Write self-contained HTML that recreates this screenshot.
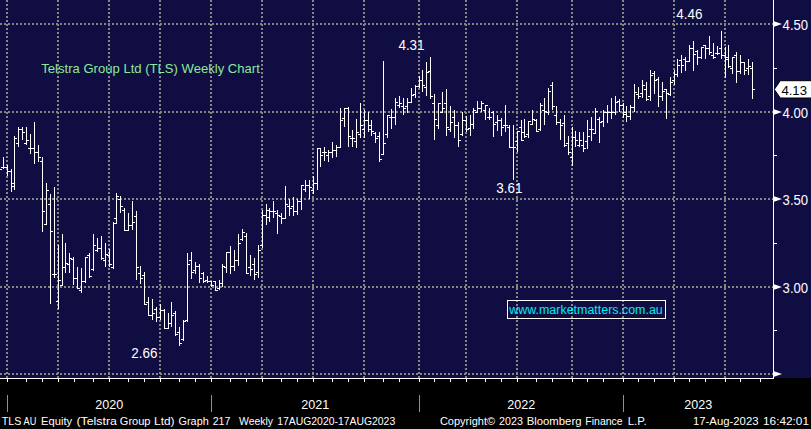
<!DOCTYPE html>
<html><head><meta charset="utf-8"><title>Telstra Group Ltd (TLS) Weekly Chart</title>
<style>
html,body{margin:0;padding:0;background:#000;}
body{width:811px;height:429px;overflow:hidden;position:relative;font-family:"Liberation Sans",sans-serif;}
svg{position:absolute;left:0;top:0;display:block;}
text{font-family:"Liberation Sans",sans-serif;}
</style></head><body>
<svg width="811" height="429" viewBox="0 0 811 429">
<rect x="0" y="0" width="811" height="429" fill="#000"/>
<rect x="0" y="0" width="811" height="378" fill="#100d43"/>
<g stroke="#878782" stroke-width="2" stroke-dasharray="2 2" shape-rendering="crispEdges" fill="none">
<line x1="0" y1="24" x2="773" y2="24"/>
<line x1="0" y1="112" x2="773" y2="112"/>
<line x1="0" y1="199" x2="773" y2="199"/>
<line x1="0" y1="287" x2="773" y2="287"/>
<line x1="0" y1="374" x2="773" y2="374"/>
<line x1="7" y1="0" x2="7" y2="378"/>
<line x1="58" y1="0" x2="58" y2="378"/>
<line x1="109" y1="0" x2="109" y2="378"/>
<line x1="160" y1="0" x2="160" y2="378"/>
<line x1="211" y1="0" x2="211" y2="378"/>
<line x1="262" y1="0" x2="262" y2="378"/>
<line x1="313" y1="0" x2="313" y2="378"/>
<line x1="364" y1="0" x2="364" y2="378"/>
<line x1="419" y1="0" x2="419" y2="378"/>
<line x1="466" y1="0" x2="466" y2="378"/>
<line x1="517" y1="0" x2="517" y2="378"/>
<line x1="572" y1="0" x2="572" y2="378"/>
<line x1="623" y1="0" x2="623" y2="378"/>
<line x1="674" y1="0" x2="674" y2="378"/>
<line x1="725" y1="0" x2="725" y2="378"/>
</g>
<g fill="#fff" shape-rendering="crispEdges">
<rect x="3" y="157" width="1" height="12"/>
<rect x="1" y="167" width="2" height="1"/>
<rect x="4" y="167" width="2" height="1"/>
<rect x="7" y="165" width="1" height="11"/>
<rect x="5" y="167" width="2" height="1"/>
<rect x="8" y="171" width="2" height="1"/>
<rect x="11" y="169" width="1" height="23"/>
<rect x="9" y="171" width="2" height="1"/>
<rect x="12" y="183" width="2" height="1"/>
<rect x="14" y="136" width="1" height="54"/>
<rect x="12" y="186" width="2" height="1"/>
<rect x="15" y="138" width="2" height="1"/>
<rect x="18" y="127" width="1" height="20"/>
<rect x="16" y="143" width="2" height="1"/>
<rect x="19" y="129" width="2" height="1"/>
<rect x="22" y="127" width="1" height="13"/>
<rect x="20" y="129" width="2" height="1"/>
<rect x="23" y="132" width="2" height="1"/>
<rect x="26" y="127" width="1" height="18"/>
<rect x="24" y="143" width="2" height="1"/>
<rect x="27" y="140" width="2" height="1"/>
<rect x="30" y="134" width="1" height="20"/>
<rect x="28" y="148" width="2" height="1"/>
<rect x="31" y="148" width="2" height="1"/>
<rect x="34" y="122" width="1" height="42"/>
<rect x="32" y="148" width="2" height="1"/>
<rect x="35" y="152" width="2" height="1"/>
<rect x="38" y="145" width="1" height="17"/>
<rect x="36" y="152" width="2" height="1"/>
<rect x="39" y="157" width="2" height="1"/>
<rect x="42" y="157" width="1" height="75"/>
<rect x="40" y="161" width="2" height="1"/>
<rect x="43" y="211" width="2" height="1"/>
<rect x="46" y="183" width="1" height="42"/>
<rect x="44" y="224" width="2" height="1"/>
<rect x="47" y="190" width="2" height="1"/>
<rect x="50" y="194" width="1" height="110"/>
<rect x="48" y="204" width="2" height="1"/>
<rect x="51" y="231" width="2" height="1"/>
<rect x="54" y="187" width="1" height="91"/>
<rect x="52" y="274" width="2" height="1"/>
<rect x="55" y="274" width="2" height="1"/>
<rect x="58" y="245" width="1" height="64"/>
<rect x="56" y="301" width="2" height="1"/>
<rect x="59" y="280" width="2" height="1"/>
<rect x="62" y="234" width="1" height="52"/>
<rect x="60" y="285" width="2" height="1"/>
<rect x="63" y="267" width="2" height="1"/>
<rect x="65" y="243" width="1" height="30"/>
<rect x="63" y="267" width="2" height="1"/>
<rect x="66" y="263" width="2" height="1"/>
<rect x="69" y="253" width="1" height="20"/>
<rect x="67" y="264" width="2" height="1"/>
<rect x="70" y="258" width="2" height="1"/>
<rect x="73" y="257" width="1" height="28"/>
<rect x="71" y="259" width="2" height="1"/>
<rect x="74" y="278" width="2" height="1"/>
<rect x="77" y="267" width="1" height="22"/>
<rect x="75" y="278" width="2" height="1"/>
<rect x="78" y="288" width="2" height="1"/>
<rect x="81" y="268" width="1" height="25"/>
<rect x="79" y="290" width="2" height="1"/>
<rect x="82" y="281" width="2" height="1"/>
<rect x="85" y="257" width="1" height="26"/>
<rect x="83" y="281" width="2" height="1"/>
<rect x="86" y="257" width="2" height="1"/>
<rect x="89" y="253" width="1" height="25"/>
<rect x="87" y="255" width="2" height="1"/>
<rect x="90" y="276" width="2" height="1"/>
<rect x="93" y="234" width="1" height="37"/>
<rect x="91" y="269" width="2" height="1"/>
<rect x="94" y="245" width="2" height="1"/>
<rect x="97" y="238" width="1" height="14"/>
<rect x="95" y="250" width="2" height="1"/>
<rect x="98" y="248" width="2" height="1"/>
<rect x="101" y="236" width="1" height="24"/>
<rect x="99" y="248" width="2" height="1"/>
<rect x="102" y="258" width="2" height="1"/>
<rect x="105" y="243" width="1" height="24"/>
<rect x="103" y="260" width="2" height="1"/>
<rect x="106" y="254" width="2" height="1"/>
<rect x="109" y="249" width="1" height="18"/>
<rect x="107" y="255" width="2" height="1"/>
<rect x="110" y="264" width="2" height="1"/>
<rect x="113" y="222" width="1" height="47"/>
<rect x="111" y="267" width="2" height="1"/>
<rect x="114" y="223" width="2" height="1"/>
<rect x="116" y="193" width="1" height="31"/>
<rect x="114" y="218" width="2" height="1"/>
<rect x="117" y="196" width="2" height="1"/>
<rect x="120" y="196" width="1" height="17"/>
<rect x="118" y="199" width="2" height="1"/>
<rect x="121" y="206" width="2" height="1"/>
<rect x="124" y="208" width="1" height="23"/>
<rect x="122" y="210" width="2" height="1"/>
<rect x="125" y="230" width="2" height="1"/>
<rect x="128" y="213" width="1" height="18"/>
<rect x="126" y="230" width="2" height="1"/>
<rect x="129" y="225" width="2" height="1"/>
<rect x="132" y="201" width="1" height="29"/>
<rect x="130" y="225" width="2" height="1"/>
<rect x="133" y="222" width="2" height="1"/>
<rect x="136" y="211" width="1" height="69"/>
<rect x="134" y="216" width="2" height="1"/>
<rect x="137" y="267" width="2" height="1"/>
<rect x="140" y="266" width="1" height="18"/>
<rect x="138" y="273" width="2" height="1"/>
<rect x="141" y="278" width="2" height="1"/>
<rect x="144" y="272" width="1" height="33"/>
<rect x="142" y="275" width="2" height="1"/>
<rect x="145" y="304" width="2" height="1"/>
<rect x="148" y="297" width="1" height="19"/>
<rect x="146" y="302" width="2" height="1"/>
<rect x="149" y="315" width="2" height="1"/>
<rect x="152" y="299" width="1" height="21"/>
<rect x="150" y="315" width="2" height="1"/>
<rect x="153" y="313" width="2" height="1"/>
<rect x="156" y="307" width="1" height="15"/>
<rect x="154" y="309" width="2" height="1"/>
<rect x="157" y="317" width="2" height="1"/>
<rect x="160" y="304" width="1" height="16"/>
<rect x="158" y="317" width="2" height="1"/>
<rect x="161" y="310" width="2" height="1"/>
<rect x="164" y="309" width="1" height="20"/>
<rect x="162" y="310" width="2" height="1"/>
<rect x="165" y="328" width="2" height="1"/>
<rect x="168" y="313" width="1" height="16"/>
<rect x="166" y="328" width="2" height="1"/>
<rect x="169" y="323" width="2" height="1"/>
<rect x="171" y="302" width="1" height="25"/>
<rect x="169" y="323" width="2" height="1"/>
<rect x="172" y="315" width="2" height="1"/>
<rect x="175" y="311" width="1" height="25"/>
<rect x="173" y="313" width="2" height="1"/>
<rect x="176" y="334" width="2" height="1"/>
<rect x="179" y="327" width="1" height="19"/>
<rect x="177" y="332" width="2" height="1"/>
<rect x="180" y="343" width="2" height="1"/>
<rect x="183" y="320" width="1" height="21"/>
<rect x="181" y="339" width="2" height="1"/>
<rect x="184" y="321" width="2" height="1"/>
<rect x="187" y="253" width="1" height="69"/>
<rect x="185" y="320" width="2" height="1"/>
<rect x="188" y="264" width="2" height="1"/>
<rect x="191" y="252" width="1" height="27"/>
<rect x="189" y="260" width="2" height="1"/>
<rect x="192" y="272" width="2" height="1"/>
<rect x="195" y="262" width="1" height="12"/>
<rect x="193" y="270" width="2" height="1"/>
<rect x="196" y="266" width="2" height="1"/>
<rect x="199" y="264" width="1" height="19"/>
<rect x="197" y="266" width="2" height="1"/>
<rect x="200" y="278" width="2" height="1"/>
<rect x="203" y="272" width="1" height="11"/>
<rect x="201" y="273" width="2" height="1"/>
<rect x="204" y="281" width="2" height="1"/>
<rect x="207" y="276" width="1" height="7"/>
<rect x="205" y="280" width="2" height="1"/>
<rect x="208" y="281" width="2" height="1"/>
<rect x="211" y="281" width="1" height="6"/>
<rect x="209" y="281" width="2" height="1"/>
<rect x="212" y="285" width="2" height="1"/>
<rect x="215" y="281" width="1" height="10"/>
<rect x="213" y="281" width="2" height="1"/>
<rect x="216" y="290" width="2" height="1"/>
<rect x="219" y="280" width="1" height="10"/>
<rect x="217" y="288" width="2" height="1"/>
<rect x="220" y="283" width="2" height="1"/>
<rect x="222" y="264" width="1" height="23"/>
<rect x="220" y="283" width="2" height="1"/>
<rect x="223" y="266" width="2" height="1"/>
<rect x="226" y="252" width="1" height="21"/>
<rect x="224" y="267" width="2" height="1"/>
<rect x="227" y="252" width="2" height="1"/>
<rect x="230" y="246" width="1" height="28"/>
<rect x="228" y="252" width="2" height="1"/>
<rect x="231" y="266" width="2" height="1"/>
<rect x="234" y="250" width="1" height="21"/>
<rect x="232" y="266" width="2" height="1"/>
<rect x="235" y="260" width="2" height="1"/>
<rect x="238" y="234" width="1" height="32"/>
<rect x="236" y="260" width="2" height="1"/>
<rect x="239" y="243" width="2" height="1"/>
<rect x="242" y="229" width="1" height="12"/>
<rect x="240" y="239" width="2" height="1"/>
<rect x="243" y="232" width="2" height="1"/>
<rect x="246" y="233" width="1" height="41"/>
<rect x="244" y="236" width="2" height="1"/>
<rect x="247" y="273" width="2" height="1"/>
<rect x="250" y="255" width="1" height="21"/>
<rect x="248" y="267" width="2" height="1"/>
<rect x="251" y="269" width="2" height="1"/>
<rect x="254" y="258" width="1" height="22"/>
<rect x="252" y="264" width="2" height="1"/>
<rect x="255" y="274" width="2" height="1"/>
<rect x="258" y="245" width="1" height="33"/>
<rect x="256" y="272" width="2" height="1"/>
<rect x="259" y="250" width="2" height="1"/>
<rect x="262" y="210" width="1" height="38"/>
<rect x="260" y="245" width="2" height="1"/>
<rect x="263" y="215" width="2" height="1"/>
<rect x="266" y="204" width="1" height="21"/>
<rect x="264" y="215" width="2" height="1"/>
<rect x="267" y="210" width="2" height="1"/>
<rect x="269" y="208" width="1" height="14"/>
<rect x="267" y="217" width="2" height="1"/>
<rect x="270" y="211" width="2" height="1"/>
<rect x="273" y="201" width="1" height="17"/>
<rect x="271" y="211" width="2" height="1"/>
<rect x="274" y="211" width="2" height="1"/>
<rect x="277" y="210" width="1" height="24"/>
<rect x="275" y="213" width="2" height="1"/>
<rect x="278" y="215" width="2" height="1"/>
<rect x="281" y="213" width="1" height="11"/>
<rect x="279" y="216" width="2" height="1"/>
<rect x="282" y="218" width="2" height="1"/>
<rect x="285" y="186" width="1" height="33"/>
<rect x="283" y="218" width="2" height="1"/>
<rect x="286" y="204" width="2" height="1"/>
<rect x="289" y="199" width="1" height="17"/>
<rect x="287" y="206" width="2" height="1"/>
<rect x="290" y="208" width="2" height="1"/>
<rect x="293" y="197" width="1" height="19"/>
<rect x="291" y="206" width="2" height="1"/>
<rect x="294" y="211" width="2" height="1"/>
<rect x="297" y="199" width="1" height="16"/>
<rect x="295" y="211" width="2" height="1"/>
<rect x="298" y="201" width="2" height="1"/>
<rect x="301" y="185" width="1" height="25"/>
<rect x="299" y="201" width="2" height="1"/>
<rect x="302" y="185" width="2" height="1"/>
<rect x="305" y="180" width="1" height="12"/>
<rect x="303" y="189" width="2" height="1"/>
<rect x="306" y="185" width="2" height="1"/>
<rect x="309" y="180" width="1" height="19"/>
<rect x="307" y="185" width="2" height="1"/>
<rect x="310" y="187" width="2" height="1"/>
<rect x="313" y="176" width="1" height="18"/>
<rect x="311" y="190" width="2" height="1"/>
<rect x="314" y="183" width="2" height="1"/>
<rect x="317" y="148" width="1" height="42"/>
<rect x="315" y="183" width="2" height="1"/>
<rect x="318" y="148" width="2" height="1"/>
<rect x="320" y="148" width="1" height="19"/>
<rect x="318" y="148" width="2" height="1"/>
<rect x="321" y="155" width="2" height="1"/>
<rect x="324" y="147" width="1" height="14"/>
<rect x="322" y="152" width="2" height="1"/>
<rect x="325" y="152" width="2" height="1"/>
<rect x="328" y="150" width="1" height="12"/>
<rect x="326" y="155" width="2" height="1"/>
<rect x="329" y="152" width="2" height="1"/>
<rect x="332" y="142" width="1" height="16"/>
<rect x="330" y="152" width="2" height="1"/>
<rect x="333" y="150" width="2" height="1"/>
<rect x="336" y="145" width="1" height="12"/>
<rect x="334" y="150" width="2" height="1"/>
<rect x="337" y="147" width="2" height="1"/>
<rect x="340" y="108" width="1" height="40"/>
<rect x="338" y="147" width="2" height="1"/>
<rect x="341" y="120" width="2" height="1"/>
<rect x="344" y="108" width="1" height="19"/>
<rect x="342" y="118" width="2" height="1"/>
<rect x="345" y="108" width="2" height="1"/>
<rect x="348" y="107" width="1" height="40"/>
<rect x="346" y="108" width="2" height="1"/>
<rect x="349" y="136" width="2" height="1"/>
<rect x="352" y="130" width="1" height="17"/>
<rect x="350" y="138" width="2" height="1"/>
<rect x="353" y="138" width="2" height="1"/>
<rect x="356" y="119" width="1" height="29"/>
<rect x="354" y="141" width="2" height="1"/>
<rect x="357" y="132" width="2" height="1"/>
<rect x="360" y="103" width="1" height="35"/>
<rect x="358" y="134" width="2" height="1"/>
<rect x="361" y="125" width="2" height="1"/>
<rect x="364" y="110" width="1" height="28"/>
<rect x="362" y="129" width="2" height="1"/>
<rect x="365" y="120" width="2" height="1"/>
<rect x="368" y="112" width="1" height="20"/>
<rect x="366" y="120" width="2" height="1"/>
<rect x="369" y="129" width="2" height="1"/>
<rect x="371" y="120" width="1" height="16"/>
<rect x="369" y="125" width="2" height="1"/>
<rect x="372" y="131" width="2" height="1"/>
<rect x="375" y="132" width="1" height="11"/>
<rect x="373" y="133" width="2" height="1"/>
<rect x="376" y="138" width="2" height="1"/>
<rect x="379" y="132" width="1" height="30"/>
<rect x="377" y="136" width="2" height="1"/>
<rect x="380" y="159" width="2" height="1"/>
<rect x="383" y="61" width="1" height="94"/>
<rect x="381" y="154" width="2" height="1"/>
<rect x="384" y="143" width="2" height="1"/>
<rect x="387" y="115" width="1" height="23"/>
<rect x="385" y="134" width="2" height="1"/>
<rect x="388" y="115" width="2" height="1"/>
<rect x="391" y="109" width="1" height="20"/>
<rect x="389" y="117" width="2" height="1"/>
<rect x="392" y="117" width="2" height="1"/>
<rect x="395" y="98" width="1" height="27"/>
<rect x="393" y="117" width="2" height="1"/>
<rect x="396" y="102" width="2" height="1"/>
<rect x="399" y="96" width="1" height="12"/>
<rect x="397" y="105" width="2" height="1"/>
<rect x="400" y="103" width="2" height="1"/>
<rect x="403" y="98" width="1" height="17"/>
<rect x="401" y="106" width="2" height="1"/>
<rect x="404" y="108" width="2" height="1"/>
<rect x="407" y="98" width="1" height="15"/>
<rect x="405" y="106" width="2" height="1"/>
<rect x="408" y="102" width="2" height="1"/>
<rect x="411" y="88" width="1" height="15"/>
<rect x="409" y="102" width="2" height="1"/>
<rect x="412" y="95" width="2" height="1"/>
<rect x="415" y="85" width="1" height="13"/>
<rect x="413" y="94" width="2" height="1"/>
<rect x="416" y="86" width="2" height="1"/>
<rect x="419" y="76" width="1" height="12"/>
<rect x="417" y="86" width="2" height="1"/>
<rect x="420" y="80" width="2" height="1"/>
<rect x="422" y="70" width="1" height="22"/>
<rect x="420" y="80" width="2" height="1"/>
<rect x="423" y="85" width="2" height="1"/>
<rect x="426" y="62" width="1" height="34"/>
<rect x="424" y="87" width="2" height="1"/>
<rect x="427" y="72" width="2" height="1"/>
<rect x="430" y="57" width="1" height="42"/>
<rect x="428" y="71" width="2" height="1"/>
<rect x="431" y="96" width="2" height="1"/>
<rect x="434" y="94" width="1" height="46"/>
<rect x="432" y="103" width="2" height="1"/>
<rect x="435" y="119" width="2" height="1"/>
<rect x="438" y="103" width="1" height="26"/>
<rect x="436" y="125" width="2" height="1"/>
<rect x="439" y="103" width="2" height="1"/>
<rect x="442" y="92" width="1" height="21"/>
<rect x="440" y="112" width="2" height="1"/>
<rect x="443" y="108" width="2" height="1"/>
<rect x="446" y="89" width="1" height="47"/>
<rect x="444" y="103" width="2" height="1"/>
<rect x="447" y="127" width="2" height="1"/>
<rect x="450" y="106" width="1" height="26"/>
<rect x="448" y="129" width="2" height="1"/>
<rect x="451" y="122" width="2" height="1"/>
<rect x="454" y="110" width="1" height="28"/>
<rect x="452" y="117" width="2" height="1"/>
<rect x="455" y="125" width="2" height="1"/>
<rect x="458" y="122" width="1" height="25"/>
<rect x="456" y="125" width="2" height="1"/>
<rect x="459" y="140" width="2" height="1"/>
<rect x="462" y="112" width="1" height="24"/>
<rect x="460" y="134" width="2" height="1"/>
<rect x="463" y="120" width="2" height="1"/>
<rect x="466" y="116" width="1" height="16"/>
<rect x="464" y="120" width="2" height="1"/>
<rect x="467" y="129" width="2" height="1"/>
<rect x="470" y="115" width="1" height="21"/>
<rect x="468" y="128" width="2" height="1"/>
<rect x="471" y="124" width="2" height="1"/>
<rect x="473" y="108" width="1" height="21"/>
<rect x="471" y="124" width="2" height="1"/>
<rect x="474" y="110" width="2" height="1"/>
<rect x="477" y="101" width="1" height="12"/>
<rect x="475" y="112" width="2" height="1"/>
<rect x="478" y="108" width="2" height="1"/>
<rect x="481" y="101" width="1" height="11"/>
<rect x="479" y="108" width="2" height="1"/>
<rect x="482" y="103" width="2" height="1"/>
<rect x="485" y="105" width="1" height="15"/>
<rect x="483" y="110" width="2" height="1"/>
<rect x="486" y="105" width="2" height="1"/>
<rect x="489" y="108" width="1" height="12"/>
<rect x="487" y="117" width="2" height="1"/>
<rect x="490" y="117" width="2" height="1"/>
<rect x="493" y="111" width="1" height="26"/>
<rect x="491" y="112" width="2" height="1"/>
<rect x="494" y="124" width="2" height="1"/>
<rect x="497" y="115" width="1" height="16"/>
<rect x="495" y="122" width="2" height="1"/>
<rect x="498" y="120" width="2" height="1"/>
<rect x="501" y="118" width="1" height="18"/>
<rect x="499" y="120" width="2" height="1"/>
<rect x="502" y="127" width="2" height="1"/>
<rect x="505" y="105" width="1" height="27"/>
<rect x="503" y="125" width="2" height="1"/>
<rect x="506" y="125" width="2" height="1"/>
<rect x="509" y="125" width="1" height="23"/>
<rect x="507" y="127" width="2" height="1"/>
<rect x="510" y="147" width="2" height="1"/>
<rect x="513" y="125" width="1" height="55"/>
<rect x="511" y="147" width="2" height="1"/>
<rect x="514" y="147" width="2" height="1"/>
<rect x="517" y="131" width="1" height="21"/>
<rect x="515" y="141" width="2" height="1"/>
<rect x="518" y="131" width="2" height="1"/>
<rect x="521" y="120" width="1" height="21"/>
<rect x="519" y="127" width="2" height="1"/>
<rect x="522" y="140" width="2" height="1"/>
<rect x="524" y="119" width="1" height="19"/>
<rect x="522" y="132" width="2" height="1"/>
<rect x="525" y="136" width="2" height="1"/>
<rect x="528" y="121" width="1" height="17"/>
<rect x="526" y="134" width="2" height="1"/>
<rect x="529" y="121" width="2" height="1"/>
<rect x="532" y="110" width="1" height="15"/>
<rect x="530" y="124" width="2" height="1"/>
<rect x="533" y="119" width="2" height="1"/>
<rect x="536" y="119" width="1" height="13"/>
<rect x="534" y="120" width="2" height="1"/>
<rect x="537" y="131" width="2" height="1"/>
<rect x="540" y="103" width="1" height="28"/>
<rect x="538" y="129" width="2" height="1"/>
<rect x="541" y="105" width="2" height="1"/>
<rect x="544" y="98" width="1" height="27"/>
<rect x="542" y="110" width="2" height="1"/>
<rect x="545" y="111" width="2" height="1"/>
<rect x="548" y="88" width="1" height="27"/>
<rect x="546" y="112" width="2" height="1"/>
<rect x="549" y="91" width="2" height="1"/>
<rect x="552" y="82" width="1" height="28"/>
<rect x="550" y="85" width="2" height="1"/>
<rect x="553" y="106" width="2" height="1"/>
<rect x="556" y="106" width="1" height="19"/>
<rect x="554" y="115" width="2" height="1"/>
<rect x="557" y="122" width="2" height="1"/>
<rect x="560" y="119" width="1" height="21"/>
<rect x="558" y="122" width="2" height="1"/>
<rect x="561" y="125" width="2" height="1"/>
<rect x="564" y="115" width="1" height="32"/>
<rect x="562" y="123" width="2" height="1"/>
<rect x="565" y="145" width="2" height="1"/>
<rect x="568" y="136" width="1" height="19"/>
<rect x="566" y="143" width="2" height="1"/>
<rect x="569" y="152" width="2" height="1"/>
<rect x="572" y="127" width="1" height="39"/>
<rect x="570" y="157" width="2" height="1"/>
<rect x="573" y="137" width="2" height="1"/>
<rect x="575" y="131" width="1" height="16"/>
<rect x="573" y="137" width="2" height="1"/>
<rect x="576" y="140" width="2" height="1"/>
<rect x="579" y="132" width="1" height="15"/>
<rect x="577" y="145" width="2" height="1"/>
<rect x="580" y="140" width="2" height="1"/>
<rect x="583" y="132" width="1" height="20"/>
<rect x="581" y="145" width="2" height="1"/>
<rect x="584" y="148" width="2" height="1"/>
<rect x="587" y="120" width="1" height="29"/>
<rect x="585" y="141" width="2" height="1"/>
<rect x="588" y="136" width="2" height="1"/>
<rect x="591" y="117" width="1" height="24"/>
<rect x="589" y="129" width="2" height="1"/>
<rect x="592" y="129" width="2" height="1"/>
<rect x="595" y="108" width="1" height="26"/>
<rect x="593" y="133" width="2" height="1"/>
<rect x="596" y="111" width="2" height="1"/>
<rect x="599" y="117" width="1" height="26"/>
<rect x="597" y="119" width="2" height="1"/>
<rect x="600" y="122" width="2" height="1"/>
<rect x="603" y="110" width="1" height="17"/>
<rect x="601" y="121" width="2" height="1"/>
<rect x="604" y="112" width="2" height="1"/>
<rect x="607" y="105" width="1" height="18"/>
<rect x="605" y="112" width="2" height="1"/>
<rect x="608" y="112" width="2" height="1"/>
<rect x="611" y="98" width="1" height="21"/>
<rect x="609" y="112" width="2" height="1"/>
<rect x="612" y="112" width="2" height="1"/>
<rect x="615" y="96" width="1" height="19"/>
<rect x="613" y="112" width="2" height="1"/>
<rect x="616" y="102" width="2" height="1"/>
<rect x="619" y="99" width="1" height="13"/>
<rect x="617" y="101" width="2" height="1"/>
<rect x="620" y="105" width="2" height="1"/>
<rect x="623" y="103" width="1" height="15"/>
<rect x="621" y="105" width="2" height="1"/>
<rect x="624" y="114" width="2" height="1"/>
<rect x="626" y="106" width="1" height="16"/>
<rect x="624" y="112" width="2" height="1"/>
<rect x="627" y="116" width="2" height="1"/>
<rect x="630" y="105" width="1" height="15"/>
<rect x="628" y="116" width="2" height="1"/>
<rect x="631" y="107" width="2" height="1"/>
<rect x="634" y="84" width="1" height="28"/>
<rect x="632" y="107" width="2" height="1"/>
<rect x="635" y="92" width="2" height="1"/>
<rect x="638" y="87" width="1" height="12"/>
<rect x="636" y="94" width="2" height="1"/>
<rect x="639" y="96" width="2" height="1"/>
<rect x="642" y="80" width="1" height="18"/>
<rect x="640" y="93" width="2" height="1"/>
<rect x="643" y="85" width="2" height="1"/>
<rect x="646" y="82" width="1" height="19"/>
<rect x="644" y="89" width="2" height="1"/>
<rect x="647" y="99" width="2" height="1"/>
<rect x="650" y="70" width="1" height="31"/>
<rect x="648" y="96" width="2" height="1"/>
<rect x="651" y="75" width="2" height="1"/>
<rect x="654" y="71" width="1" height="23"/>
<rect x="652" y="73" width="2" height="1"/>
<rect x="655" y="80" width="2" height="1"/>
<rect x="658" y="77" width="1" height="30"/>
<rect x="656" y="79" width="2" height="1"/>
<rect x="659" y="96" width="2" height="1"/>
<rect x="662" y="82" width="1" height="19"/>
<rect x="660" y="96" width="2" height="1"/>
<rect x="663" y="91" width="2" height="1"/>
<rect x="666" y="89" width="1" height="30"/>
<rect x="664" y="89" width="2" height="1"/>
<rect x="667" y="93" width="2" height="1"/>
<rect x="670" y="77" width="1" height="19"/>
<rect x="668" y="94" width="2" height="1"/>
<rect x="671" y="82" width="2" height="1"/>
<rect x="674" y="70" width="1" height="15"/>
<rect x="672" y="80" width="2" height="1"/>
<rect x="675" y="74" width="2" height="1"/>
<rect x="677" y="59" width="1" height="18"/>
<rect x="675" y="74" width="2" height="1"/>
<rect x="678" y="65" width="2" height="1"/>
<rect x="681" y="55" width="1" height="18"/>
<rect x="679" y="60" width="2" height="1"/>
<rect x="682" y="65" width="2" height="1"/>
<rect x="685" y="57" width="1" height="14"/>
<rect x="683" y="59" width="2" height="1"/>
<rect x="686" y="61" width="2" height="1"/>
<rect x="689" y="45" width="1" height="17"/>
<rect x="687" y="61" width="2" height="1"/>
<rect x="690" y="48" width="2" height="1"/>
<rect x="693" y="41" width="1" height="30"/>
<rect x="691" y="48" width="2" height="1"/>
<rect x="694" y="54" width="2" height="1"/>
<rect x="697" y="50" width="1" height="15"/>
<rect x="695" y="51" width="2" height="1"/>
<rect x="698" y="57" width="2" height="1"/>
<rect x="701" y="47" width="1" height="12"/>
<rect x="699" y="57" width="2" height="1"/>
<rect x="702" y="47" width="2" height="1"/>
<rect x="705" y="45" width="1" height="14"/>
<rect x="703" y="45" width="2" height="1"/>
<rect x="706" y="48" width="2" height="1"/>
<rect x="709" y="36" width="1" height="19"/>
<rect x="707" y="48" width="2" height="1"/>
<rect x="710" y="52" width="2" height="1"/>
<rect x="713" y="43" width="1" height="16"/>
<rect x="711" y="55" width="2" height="1"/>
<rect x="714" y="57" width="2" height="1"/>
<rect x="717" y="46" width="1" height="9"/>
<rect x="715" y="53" width="2" height="1"/>
<rect x="718" y="53" width="2" height="1"/>
<rect x="721" y="31" width="1" height="28"/>
<rect x="719" y="48" width="2" height="1"/>
<rect x="722" y="55" width="2" height="1"/>
<rect x="725" y="47" width="1" height="31"/>
<rect x="723" y="55" width="2" height="1"/>
<rect x="726" y="57" width="2" height="1"/>
<rect x="728" y="45" width="1" height="23"/>
<rect x="726" y="59" width="2" height="1"/>
<rect x="729" y="66" width="2" height="1"/>
<rect x="732" y="57" width="1" height="17"/>
<rect x="730" y="68" width="2" height="1"/>
<rect x="733" y="57" width="2" height="1"/>
<rect x="736" y="52" width="1" height="31"/>
<rect x="734" y="55" width="2" height="1"/>
<rect x="737" y="71" width="2" height="1"/>
<rect x="740" y="55" width="1" height="19"/>
<rect x="738" y="71" width="2" height="1"/>
<rect x="741" y="62" width="2" height="1"/>
<rect x="744" y="62" width="1" height="13"/>
<rect x="742" y="62" width="2" height="1"/>
<rect x="745" y="70" width="2" height="1"/>
<rect x="748" y="59" width="1" height="16"/>
<rect x="746" y="68" width="2" height="1"/>
<rect x="749" y="66" width="2" height="1"/>
<rect x="752" y="62" width="1" height="37"/>
<rect x="750" y="68" width="2" height="1"/>
<rect x="753" y="89" width="2" height="1"/>
<rect x="0" y="169" width="2" height="1"/>
</g>
<g fill="#fff" shape-rendering="crispEdges">
<rect x="773" y="0" width="1" height="379"/>
<rect x="0" y="378" width="774" height="1"/>
<rect x="7" y="379" width="1" height="3"/>
<rect x="26" y="379" width="1" height="3"/>
<rect x="42" y="379" width="1" height="3"/>
<rect x="58" y="379" width="1" height="3"/>
<rect x="74" y="379" width="1" height="3"/>
<rect x="93" y="379" width="1" height="3"/>
<rect x="109" y="379" width="1" height="3"/>
<rect x="128" y="379" width="1" height="3"/>
<rect x="144" y="379" width="1" height="3"/>
<rect x="160" y="379" width="1" height="3"/>
<rect x="179" y="379" width="1" height="3"/>
<rect x="195" y="379" width="1" height="3"/>
<rect x="211" y="379" width="1" height="3"/>
<rect x="230" y="379" width="1" height="3"/>
<rect x="246" y="379" width="1" height="3"/>
<rect x="262" y="379" width="1" height="3"/>
<rect x="281" y="379" width="1" height="3"/>
<rect x="297" y="379" width="1" height="3"/>
<rect x="313" y="379" width="1" height="3"/>
<rect x="332" y="379" width="1" height="3"/>
<rect x="348" y="379" width="1" height="3"/>
<rect x="364" y="379" width="1" height="3"/>
<rect x="383" y="379" width="1" height="3"/>
<rect x="399" y="379" width="1" height="3"/>
<rect x="419" y="379" width="1" height="3"/>
<rect x="434" y="379" width="1" height="3"/>
<rect x="450" y="379" width="1" height="3"/>
<rect x="466" y="379" width="1" height="3"/>
<rect x="485" y="379" width="1" height="3"/>
<rect x="501" y="379" width="1" height="3"/>
<rect x="517" y="379" width="1" height="3"/>
<rect x="536" y="379" width="1" height="3"/>
<rect x="552" y="379" width="1" height="3"/>
<rect x="572" y="379" width="1" height="3"/>
<rect x="587" y="379" width="1" height="3"/>
<rect x="603" y="379" width="1" height="3"/>
<rect x="623" y="379" width="1" height="3"/>
<rect x="638" y="379" width="1" height="3"/>
<rect x="654" y="379" width="1" height="3"/>
<rect x="674" y="379" width="1" height="3"/>
<rect x="689" y="379" width="1" height="3"/>
<rect x="705" y="379" width="1" height="3"/>
<rect x="725" y="379" width="1" height="3"/>
<rect x="740" y="379" width="1" height="3"/>
<rect x="760" y="379" width="1" height="3"/>
<rect x="774" y="68" width="3" height="1"/>
<rect x="774" y="155" width="3" height="1"/>
<rect x="774" y="243" width="3" height="1"/>
<rect x="774" y="330" width="3" height="1"/>
</g>
<g fill="#fff">
<path d="M774 21.3 L782 24 L774 26.7 Z"/>
<path d="M774 109.3 L782 112 L774 114.7 Z"/>
<path d="M774 196.3 L782 199 L774 201.7 Z"/>
<path d="M774 284.3 L782 287 L774 289.7 Z"/>
<path d="M774 371.3 L782 374 L774 376.7 Z"/>
</g>
<g fill="#909090" shape-rendering="crispEdges">
<rect x="7" y="395" width="1" height="17"/>
<rect x="211" y="395" width="1" height="17"/>
<rect x="419" y="395" width="1" height="17"/>
<rect x="623" y="395" width="1" height="17"/>
</g>
<path d="M774.3 89.4 L780.3 80.7 L812 80.7 L812 98 L780.3 98 Z" fill="#fff" stroke="#000" stroke-width="1"/>
<rect x="507.5" y="300.5" width="158" height="18" fill="none" stroke="#fff" stroke-width="1"/>
<text x="41.3" y="73" font-size="13.2" fill="#8ee89a" text-anchor="start" textLength="218.5" lengthAdjust="spacingAndGlyphs">Telstra Group Ltd (TLS) Weekly Chart</text>
<text x="398.4" y="50" font-size="14" fill="#fff" text-anchor="start" textLength="26.2" lengthAdjust="spacingAndGlyphs">4.31</text>
<text x="676.2" y="19" font-size="14" fill="#fff" text-anchor="start" textLength="26.2" lengthAdjust="spacingAndGlyphs">4.46</text>
<text x="496.2" y="193" font-size="14" fill="#fff" text-anchor="start" textLength="26.2" lengthAdjust="spacingAndGlyphs">3.61</text>
<text x="131.2" y="358" font-size="14" fill="#fff" text-anchor="start" textLength="26.2" lengthAdjust="spacingAndGlyphs">2.66</text>
<text x="509.3" y="313.9" font-size="12.45" fill="#00eeee" text-anchor="start" >www.marketmatters.com.au</text>
<text x="782.6" y="30" font-size="14" fill="#fff" text-anchor="start" textLength="25.5" lengthAdjust="spacingAndGlyphs">4.50</text>
<text x="782.6" y="118" font-size="14" fill="#fff" text-anchor="start" textLength="25.5" lengthAdjust="spacingAndGlyphs">4.00</text>
<text x="782.6" y="205" font-size="14" fill="#fff" text-anchor="start" textLength="25.5" lengthAdjust="spacingAndGlyphs">3.50</text>
<text x="782.6" y="293" font-size="14" fill="#fff" text-anchor="start" textLength="25.5" lengthAdjust="spacingAndGlyphs">3.00</text>
<text x="781.4" y="94.5" font-size="13.7" fill="#000" text-anchor="start" textLength="25.6" lengthAdjust="spacingAndGlyphs">4.13</text>
<text x="109.2" y="408.6" font-size="13.2" fill="#fff" text-anchor="middle" textLength="28" lengthAdjust="spacingAndGlyphs">2020</text>
<text x="315.2" y="408.6" font-size="13.2" fill="#fff" text-anchor="middle" textLength="28" lengthAdjust="spacingAndGlyphs">2021</text>
<text x="521.2" y="408.6" font-size="13.2" fill="#fff" text-anchor="middle" textLength="28" lengthAdjust="spacingAndGlyphs">2022</text>
<text x="698.2" y="408.6" font-size="13.2" fill="#fff" text-anchor="middle" textLength="28" lengthAdjust="spacingAndGlyphs">2023</text>
<text x="1.7" y="425" font-size="11" fill="#fff" text-anchor="start" textLength="19.6" lengthAdjust="spacingAndGlyphs">TLS</text>
<text x="23.6" y="425" font-size="11" fill="#fff" text-anchor="start" textLength="12.7" lengthAdjust="spacingAndGlyphs">AU</text>
<text x="41.1" y="425" font-size="11" fill="#fff" text-anchor="start" textLength="31.0" lengthAdjust="spacingAndGlyphs">Equity</text>
<text x="76.4" y="425" font-size="11" fill="#fff" text-anchor="start" textLength="40.6" lengthAdjust="spacingAndGlyphs">(Telstra</text>
<text x="119.8" y="425" font-size="11" fill="#fff" text-anchor="start" textLength="30.7" lengthAdjust="spacingAndGlyphs">Group</text>
<text x="154.1" y="425" font-size="11" fill="#fff" text-anchor="start" textLength="20.5" lengthAdjust="spacingAndGlyphs">Ltd)</text>
<text x="178.6" y="425" font-size="11" fill="#fff" text-anchor="start" textLength="30.1" lengthAdjust="spacingAndGlyphs">Graph</text>
<text x="212.7" y="425" font-size="11" fill="#fff" text-anchor="start" textLength="17.7" lengthAdjust="spacingAndGlyphs">217</text>
<text x="239.0" y="425" font-size="11" fill="#fff" text-anchor="start" textLength="34.1" lengthAdjust="spacingAndGlyphs">Weekly</text>
<text x="277.2" y="425" font-size="11" fill="#fff" text-anchor="start" textLength="118.0" lengthAdjust="spacingAndGlyphs">17AUG2020-17AUG2023</text>
<text x="439.9" y="425" font-size="11" fill="#fff" text-anchor="start" textLength="55.3" lengthAdjust="spacingAndGlyphs">Copyright©</text>
<text x="499.1" y="425" font-size="11" fill="#fff" text-anchor="start" textLength="23.8" lengthAdjust="spacingAndGlyphs">2023</text>
<text x="526.7" y="425" font-size="11" fill="#fff" text-anchor="start" textLength="54.8" lengthAdjust="spacingAndGlyphs">Bloomberg</text>
<text x="585.3" y="425" font-size="11" fill="#fff" text-anchor="start" textLength="37.4" lengthAdjust="spacingAndGlyphs">Finance</text>
<text x="627.7" y="425" font-size="11" fill="#fff" text-anchor="start" textLength="18.9" lengthAdjust="spacingAndGlyphs">L.P.</text>
<text x="693.0" y="425" font-size="11" fill="#fff" text-anchor="start" textLength="65.5" lengthAdjust="spacingAndGlyphs">17-Aug-2023</text>
<text x="763.0" y="425" font-size="11" fill="#fff" text-anchor="start" textLength="46.0" lengthAdjust="spacingAndGlyphs">16:42:01</text>
</svg>
</body></html>
